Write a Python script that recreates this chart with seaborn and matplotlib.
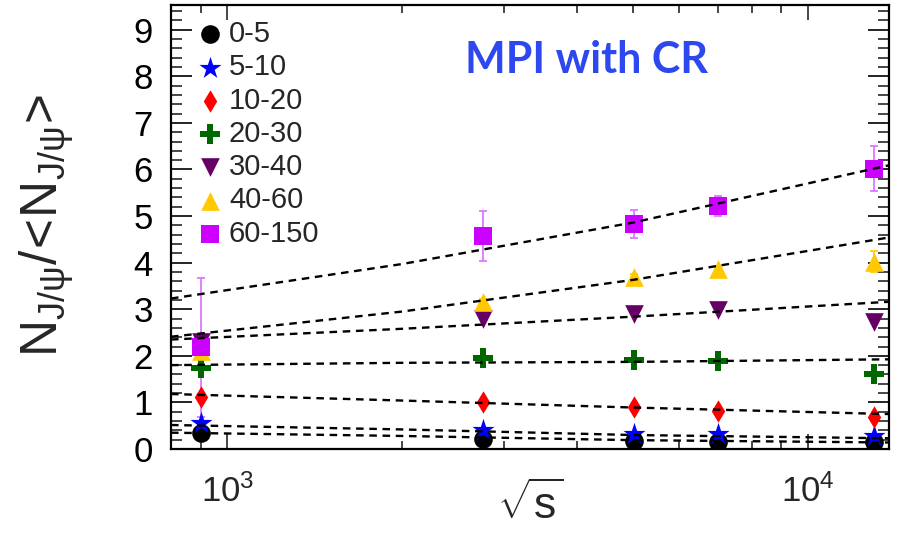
import numpy as np
import pandas as pd
import matplotlib
matplotlib.use("Agg")
import matplotlib.pyplot as plt
import seaborn as sns
from matplotlib.ticker import MultipleLocator, LogLocator, NullFormatter

# ---------------- data ----------------
sqrt_s = [900, 2760, 5020, 7000, 13000]
centrality = ["0-5", "5-10", "10-20", "20-30", "30-40", "40-60", "60-150"]

c0_5 = [0.34, 0.21, 0.17, 0.16, 0.14]
c5_10 = [0.55, 0.40, 0.33, 0.32, 0.27]
c10_20 = [1.11, 1.00, 0.91, 0.82, 0.69]
c20_30 = [1.73, 1.95, 1.92, 1.89, 1.62]
c30_40 = [2.30, 2.79, 2.90, 2.98, 2.72]
c40_60 = [2.10, 3.16, 3.70, 3.86, 4.02]
c60_150 = [2.18, 4.57, 4.82, 5.22, 6.02]

err40_60 = [0.05, 0.05, 0.05, 0.05, 0.23]
err60_150 = [1.50, 0.53, 0.30, 0.22, 0.48]

# dashed fit curves read at these sqrt(s) values
fit_x = [800, 2000, 5000, 13800]
fit0_5 = [0.35, 0.28, 0.19, 0.14]
fit5_10 = [0.515, 0.42, 0.30, 0.23]
fit10_20 = [1.18, 1.04, 0.89, 0.75]
fit20_30 = [1.80, 1.85, 1.87, 1.925]
fit30_40 = [2.35, 2.58, 2.84, 3.16]
fit40_60 = [2.41, 2.95, 3.63, 4.54]
fit60_150 = [3.23, 3.97, 4.86, 6.09]

series = [c0_5, c5_10, c10_20, c20_30, c30_40, c40_60, c60_150]
fits = [fit0_5, fit5_10, fit10_20, fit20_30, fit30_40, fit40_60, fit60_150]

colors = ["#000000", "#0000FF", "#FF0000", "#006600", "#660066", "#FFC800", "#CC00FF"]
markers = ["o", "*", "d", "P", "v", "^", "s"]
msizes = [180, 280, 130, 200, 180, 180, 150]

# ---------------- style ----------------
sns.set_theme(style="ticks")
plt.rcParams["font.family"] = ["Liberation Sans", "DejaVu Sans"]
plt.rcParams["mathtext.fontset"] = "custom"
plt.rcParams["mathtext.rm"] = "Liberation Sans"
plt.rcParams["mathtext.it"] = "Liberation Sans:italic"
plt.rcParams["mathtext.bf"] = "Liberation Sans:bold"

W, H = 899, 542
fig = plt.figure(figsize=(W / 100, H / 100), dpi=100)
L, R, T, B = 171, 889, 5, 449
ax = fig.add_axes([L / W, 1 - B / H, (R - L) / W, (B - T) / H])
ax.set_xscale("log")

handles = []
for lab, ys, col, mk, s in zip(centrality, series, colors, markers, msizes):
    df = pd.DataFrame({"sqrt_s": sqrt_s, "ratio": ys})
    sns.scatterplot(data=df, x="sqrt_s", y="ratio", marker=mk, color=col, s=s,
                    linewidth=0, ax=ax, zorder=3, label=lab, legend=False)
    handles.append(ax.collections[-1])

ax.errorbar(sqrt_s, c40_60, yerr=err40_60, fmt="none", ecolor=colors[5],
            elinewidth=1.2, capsize=3, capthick=1.2, zorder=2.5)
ax.errorbar(sqrt_s, c60_150, yerr=err60_150, fmt="none", ecolor="#DD77FF",
            elinewidth=1.3, capsize=3, capthick=1.3, zorder=2.5)

for fy in fits:
    fd = pd.DataFrame({"sqrt_s": fit_x, "ratio": fy})
    sns.lineplot(data=fd, x="sqrt_s", y="ratio", color="black", linewidth=1.7,
                 linestyle=(0, (3.2, 2.4)), ax=ax, zorder=5, legend=False)

ax.set_xlim(800, 13800)
ax.set_ylim(0, 9.53)
ax.set_xlabel("")
ax.set_ylabel("")

# ticks
ax.yaxis.set_major_locator(MultipleLocator(1))
ax.yaxis.set_minor_locator(MultipleLocator(0.2))
ax.xaxis.set_major_locator(LogLocator(base=10, numticks=10))
ax.xaxis.set_minor_locator(LogLocator(base=10, subs=np.arange(2, 10), numticks=20))
ax.xaxis.set_minor_formatter(NullFormatter())
ax.tick_params(axis="y", which="major", direction="in", length=15, width=1.2,
               left=True, right=True, labelsize=25, pad=13, colors="black")
ax.tick_params(axis="y", which="minor", direction="in", length=8, width=1.2,
               left=True, right=True)
ax.tick_params(axis="x", which="major", direction="in", length=11, width=1.2,
               top=True, bottom=True, labelsize=25, pad=18)
ax.tick_params(axis="x", which="minor", direction="in", length=6, width=1.2,
               top=True, bottom=True)
for sp in ax.spines.values():
    sp.set_linewidth(1.6)
    sp.set_color("black")
    sp.set_visible(True)

# legend
leg = ax.legend(handles, centrality, loc="upper left", bbox_to_anchor=(0.036, 0.966),
                frameon=False, fontsize=21, handletextpad=0.2, labelspacing=0.18,
                borderaxespad=0, borderpad=0, handlelength=0.9)

# annotation
ax.text(0.748, 0.8475, "MPI with CR", transform=ax.transAxes, ha="right", va="baseline",
        fontsize=31, fontweight="bold", family="Lato", color="#2E48F0")

# axis titles
fig.text(47 / W, 1 - 225 / H, r"$\mathregular{N_{J/\psi}/\!<\!N_{J/\psi}\!>}$",
         rotation=90, ha="center", va="center", fontsize=37)
fig.text(530 / W, 1 - 505 / H, r"$\mathregular{\sqrt{s}}$", ha="center", va="center",
         fontsize=32)

fig.savefig("out.png", dpi=100)
